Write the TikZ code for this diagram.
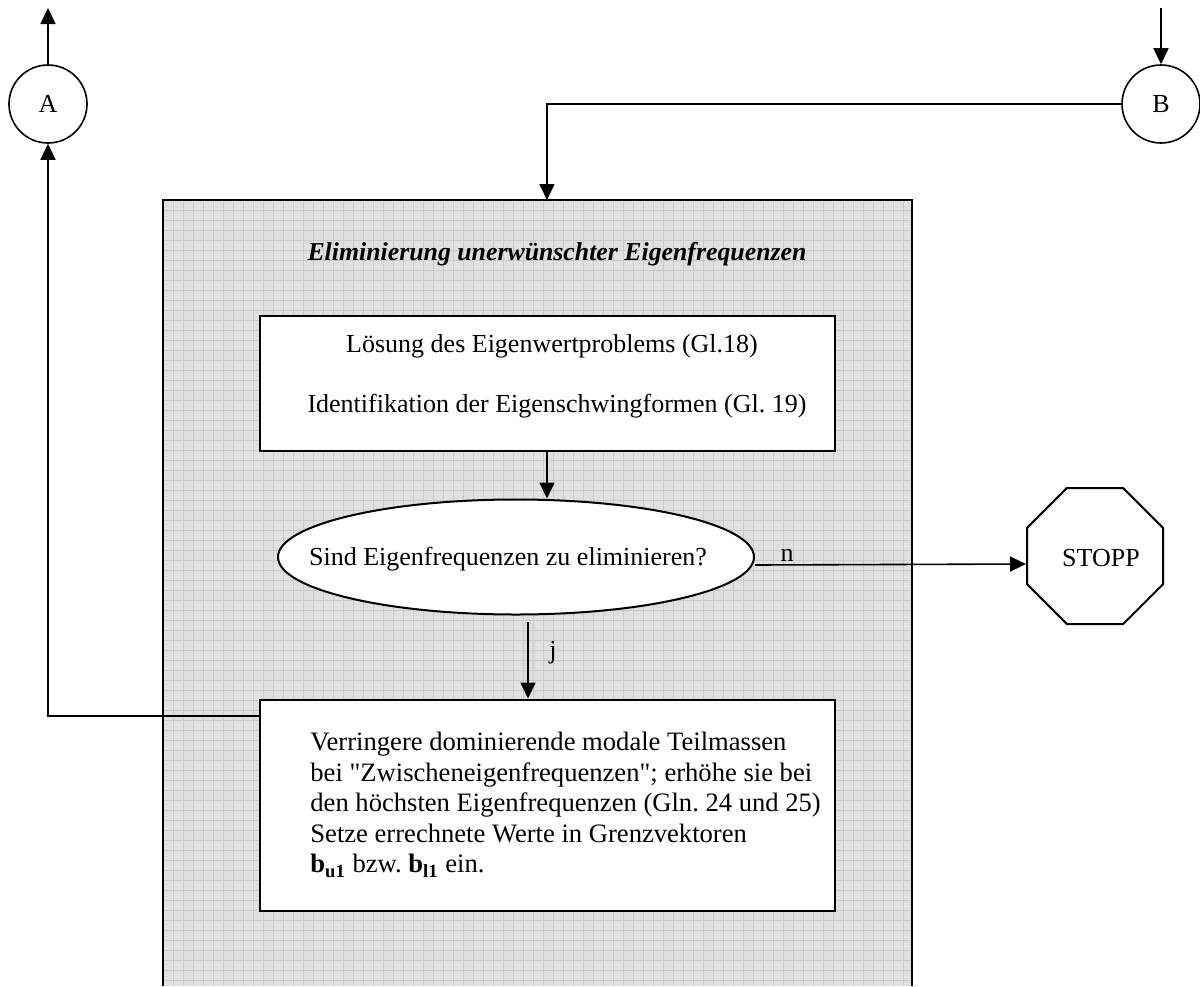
\documentclass[tikz,border=0pt]{standalone}
\usepackage{fontspec}
\setmainfont{Liberation Serif}
\newfontfamily\plainq{Liberation Serif}[Ligatures=TeXOff]
\usetikzlibrary{arrows.meta,shapes.geometric,calc}
\definecolor{gridbg}{HTML}{E0E0E0}
\definecolor{gridln}{HTML}{CACACA}
\tikzset{
  px/.style={x=0.5pt,y=-0.5pt},
  arr/.style={-{Triangle[length=8pt,width=7.5pt]},line width=0.8pt},
  conn/.style={draw,circle,line width=0.8pt,minimum size=39pt,inner sep=0pt,font=\fontsize{13}{15}\selectfont},
  boxx/.style={draw,fill=white,line width=1pt,inner sep=0pt},
  txt/.style={inner sep=0pt,font=\fontsize{13}{15.25}\selectfont},
}
\frenchspacing
\begin{document}
\begin{tikzpicture}[px]
\useasboundingbox (0,0) rectangle (1200,986);
% grey grid panel
\fill[gridbg] (163,200) rectangle (912,986);
\foreach \x in {173,183,...,912} \draw[gridln,line width=0.35pt] (\x,200) -- (\x,986);
\foreach \y in {210,220,...,986} \draw[gridln,line width=0.35pt] (163,\y) -- (912,\y);
\draw[line width=1pt] (163,986) -- (163,200) -- (912,200) -- (912,986);
% title
\node[txt,font=\fontsize{12.9}{15}\selectfont\bfseries\itshape,anchor=base] (title) at (557,260) {Eliminierung unerwünschter Eigenfrequenzen};
% box 1
\node[boxx,minimum width=287.5pt,minimum height=67.5pt] (box1) at (547.5,383) {};
\node[txt,anchor=base] (t1) at (552,352) {Lösung des Eigenwertproblems (Gl.18)};
\node[txt,anchor=base] (t2) at (557,412) {Identifikation der Eigenschwingformen (Gl. 19)};
% decision ellipse
\node[draw,ellipse,fill=white,line width=1pt,minimum width=238pt,minimum height=57.5pt,inner sep=0pt] (ell) at (516,557) {};
\node[txt,anchor=base] (t3) at (508,565) {Sind Eigenfrequenzen zu eliminieren?};
% box 2
\node[boxx,minimum width=287.5pt,minimum height=105.5pt] (box2) at (547.5,805) {};
\node[txt,font=\fontsize{13.3}{15.25}\selectfont,anchor=north west,align=left] (t4) at (310,732) {Verringere dominierende modale Teilmassen\\
bei {\plainq"}Zwischeneigenfrequenzen{\plainq"}; erhöhe sie bei\\
den höchsten Eigenfrequenzen (Gln. 24 und 25)\\
Setze errechnete Werte in Grenzvektoren\\
\textbf{b}\textsubscript{\textbf{u1}} bzw. \textbf{b}\textsubscript{\textbf{l1}} ein.};
% STOPP octagon
\node[draw,regular polygon,regular polygon sides=8,fill=white,line width=1pt,minimum size=73.6pt,inner sep=0pt] (stop) at (1095,556) {};
\node[txt,anchor=base] (stopt) at (1101,566) {STOPP};
% connectors A and B
\node[conn] (A) at (48,104) {A};
\node[conn] (B) at (1161,104) {B};
\coordinate (Atop) at (48,8);
\coordinate (Btop) at (1161,8);
\draw[arr] (A.north) -- (Atop);
\draw[arr] (Btop) -- (B.north);
\coordinate (bx) at (547,104);
\draw[arr] (B.west) -- (bx) -- (bx |- 163,200);
\coordinate (corner) at (48,716);
\draw[arr] (box2.west |- corner) -- (corner) -- (A.south);
% flow arrows
\draw[arr] (box1.south -| 547,0) -- (ell.north -| 547,0);
\coordinate (js) at (528,622);
\draw[arr] (js) -- (box2.north -| js);
\node[txt,anchor=base] (jl) at (553,658) {j};
\draw[arr] ([yshift=-4pt]ell.east) -- ([yshift=-4pt]stop.west);
\node[txt,anchor=base] (nl) at (787,561) {n};
\end{tikzpicture}
\end{document}
